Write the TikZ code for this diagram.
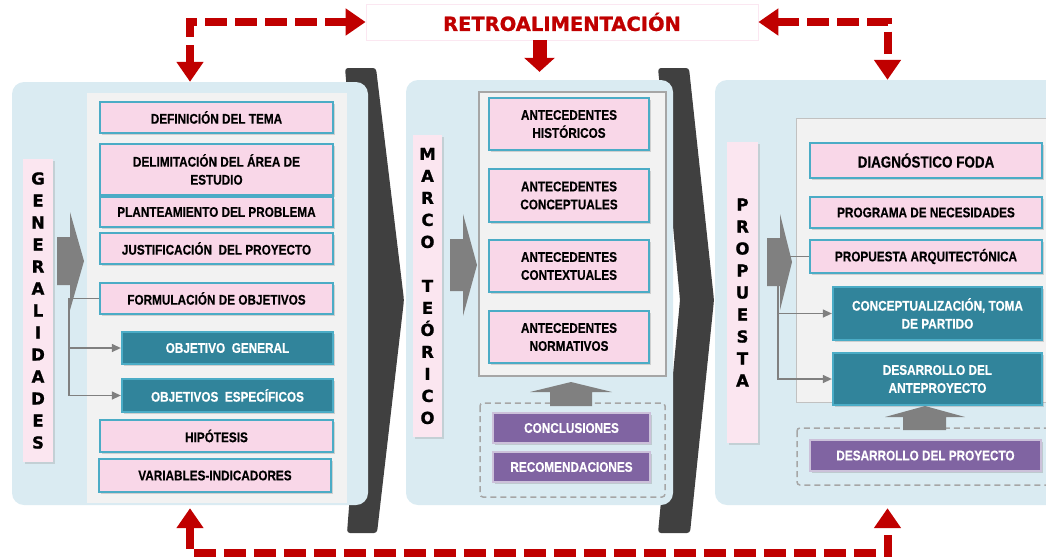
\documentclass[tikz,border=0pt]{standalone}
\usepackage{fontspec}
\usetikzlibrary{arrows.meta,shadows}
\newfontfamily\boxfont{Liberation Sans}[FakeStretch=0.84,BoldFeatures={FakeBold=0.4}]
\newfontfamily\heavyfont{DejaVu Sans}[BoldFeatures={FakeBold=1}]

\begin{document}
\begin{tikzpicture}[x=1pt,y=-1pt,
  panel/.style={fill=panelblue,rounded corners=12pt,inner sep=0pt},
  pinkbox/.style={draw=boxline,line width=2.3pt,fill=boxpink,inner sep=1pt,align=center,
    font=\boxfont\bfseries\fontsize{14}{18}\selectfont,
    drop shadow={shadow xshift=1.5pt,shadow yshift=-1.5pt,opacity=0.3}},
  tealbox/.style={pinkbox,fill=tealfill,text=white},
  purplebox/.style={pinkbox,draw=purpleline,line width=1.2pt,fill=purplefill,text=white},
  strip/.style={fill=strippink,inner sep=0pt,align=center,
    font=\heavyfont\bfseries\fontsize{16.5}{22}\selectfont,
    drop shadow={shadow xshift=1.5pt,shadow yshift=-1.5pt,opacity=0.25}},
  conn/.style={draw=arrowgray,line width=1.3pt,-{Triangle[width=8pt,length=9pt]}},
  fb/.style={draw=fbred,line width=8pt,dash pattern=on 22pt off 8pt,
    {Triangle[width=26pt,length=20pt]}-{Triangle[width=26pt,length=20pt]}},
  group/.style={draw=framegray,line width=1.5pt,dash pattern=on 6pt off 4pt,rounded corners=3pt}]
% Define colors
\definecolor{panelblue}{RGB}{218,235,242}
\definecolor{innergray}{RGB}{242,242,242}
\definecolor{boxpink}{RGB}{249,215,232}
\definecolor{strippink}{RGB}{251,230,240}
\definecolor{boxline}{RGB}{75,172,198}
\definecolor{tealfill}{RGB}{49,132,155}
\definecolor{purplefill}{RGB}{128,100,162}
\definecolor{purpleline}{RGB}{204,193,218}
\definecolor{chevdark}{RGB}{64,64,64}
\definecolor{arrowgray}{RGB}{128,128,128}
\definecolor{framegray}{RGB}{166,166,166}
\definecolor{fbred}{RGB}{192,0,0}

\useasboundingbox (0,0) rectangle (1046,558);
\clip (0,0) rectangle (1046,558);

% Dark chevrons behind the panels
\fill[chevdark,rounded corners=3pt] (345,68) -- (376,68) -- (404,300) -- (377,533) -- (347,533) -- (365,300) -- cycle;
\fill[chevdark,rounded corners=3pt] (658,68) -- (689,68) -- (714,300) -- (690,533) -- (658,533) -- (680,300) -- cycle;

% Panels
\node[panel,minimum width=356pt,minimum height=423pt] (p1) at (190,293.5) {};
\node[panel,minimum width=267pt,minimum height=425pt] (p2) at (539.5,292.5) {};
\node[panel,minimum width=345pt,minimum height=425pt] (p3) at (887.5,292.5) {};

% Inner gray areas
\fill[innergray] (87,93) rectangle (347,503);
\filldraw[fill=innergray,draw=framegray,line width=1.5pt] (479,92) rectangle (666,376);
\filldraw[fill=innergray,draw=framegray!70,line width=0.8pt] (796,118) rectangle (1060,402);

% Vertical titles
\node[strip,minimum width=30pt,minimum height=303pt] (gen) at (38,310.5)
  {G\\E\\N\\E\\R\\A\\L\\I\\D\\A\\D\\E\\S};
\node[strip,minimum width=29pt,minimum height=302pt] (mar) at (427.5,286)
  {M\\A\\R\\C\\O\\[22pt]T\\E\\Ó\\R\\I\\C\\O};
\node[strip,minimum width=31pt,minimum height=301pt] (pro) at (742.5,292.5)
  {P\\R\\O\\P\\U\\E\\S\\T\\A};

% Big gray arrows
\fill[arrowgray] (57,237) -- (70,237) -- (70,212) -- (84,261) -- (70,310) -- (70,285) -- (57,285) -- cycle;
\fill[arrowgray] (450,239) -- (463,239) -- (463,214) -- (477,265) -- (463,316) -- (463,291) -- (450,291) -- cycle;
\fill[arrowgray] (767,238) -- (780,238) -- (780,214) -- (792,262) -- (780,310) -- (780,286) -- (767,286) -- cycle;

% Generalidades
\node[pinkbox,minimum width=233pt,minimum height=31pt] (def) at (216.5,117.5) {DEFINICIÓN DEL TEMA};
\node[pinkbox,minimum width=233pt,minimum height=51pt] (delim) at (216.5,169.5) {DELIMITACIÓN DEL ÁREA DE\\ESTUDIO};
\node[pinkbox,minimum width=233pt,minimum height=30pt] (plant) at (216.5,212) {PLANTEAMIENTO DEL PROBLEMA};
\node[pinkbox,minimum width=233pt,minimum height=31pt] (just) at (216.5,248.5) {JUSTIFICACIÓN~~DEL PROYECTO};
\node[pinkbox,minimum width=233pt,minimum height=31pt] (form) at (216.5,298.5) {FORMULACIÓN DE OBJETIVOS};
\node[tealbox,minimum width=211pt,minimum height=32pt] (objgen) at (227.5,348) {OBJETIVO~~GENERAL};
\node[tealbox,minimum width=211pt,minimum height=33pt] (objesp) at (227.5,395.5) {OBJETIVOS~~ESPECÍFICOS};
\node[pinkbox,minimum width=233pt,minimum height=32pt] (hip) at (216.5,436) {HIPÓTESIS};
\node[pinkbox,minimum width=232pt,minimum height=33pt] (var) at (215,475.5) {VARIABLES-INDICADORES};

\draw[conn] (form.west) -- ++(-30,0) |- (objesp.west);
\draw[conn] (form.west) ++(-30,0) |- (objgen.west);

% Marco teorico
\node[pinkbox,minimum width=160pt,minimum height=52pt] (hist) at (569,124) {ANTECEDENTES\\HISTÓRICOS};
\node[pinkbox,minimum width=160pt,minimum height=53pt] (concep) at (569,195.5) {ANTECEDENTES\\CONCEPTUALES};
\node[pinkbox,minimum width=160pt,minimum height=52pt] (context) at (569,266) {ANTECEDENTES\\CONTEXTUALES};
\node[pinkbox,minimum width=160pt,minimum height=52pt] (norm) at (569,337) {ANTECEDENTES\\NORMATIVOS};

\draw[group] (480,403) rectangle (665,497);
\fill[arrowgray] (550,406) -- (550,392) -- (530,392) -- (571,382) -- (612,392) -- (592,392) -- (592,406) -- cycle;
\node[purplebox,minimum width=157pt,minimum height=30pt] (concl) at (571.5,428) {CONCLUSIONES};
\node[purplebox,minimum width=157pt,minimum height=30pt] (recom) at (571.5,467) {RECOMENDACIONES};

% Propuesta
\node[pinkbox,minimum width=232pt,minimum height=35pt,font=\boxfont\bfseries\fontsize{16}{18}\selectfont] (foda) at (926,160.5) {DIAGNÓSTICO FODA};
\node[pinkbox,minimum width=232pt,minimum height=31pt] (prog) at (926,212.5) {PROGRAMA DE NECESIDADES};
\node[pinkbox,minimum width=232pt,minimum height=33pt] (parq) at (926,256.5) {PROPUESTA ARQUITECTÓNICA};
\node[tealbox,minimum width=209pt,minimum height=53pt] (toma) at (937.5,313.5) {CONCEPTUALIZACIÓN, TOMA\\DE PARTIDO};
\node[tealbox,minimum width=209pt,minimum height=52pt] (antep) at (937.5,379) {DESARROLLO DEL\\ANTEPROYECTO};

\draw[conn] (parq.west) -- ++(-31,0) |- (antep.west);
\draw[conn] (parq.west) ++(-31,0) |- (toma.west);

\draw[group] (797,428) rectangle (1070,485);
\fill[arrowgray] (903,430) -- (903,417) -- (885,417) -- (925,406) -- (965,417) -- (946,417) -- (946,430) -- cycle;
\node[purplebox,minimum width=231pt,minimum height=31pt] (desproy) at (925.5,455.5) {DESARROLLO DEL PROYECTO};

% Feedback
\node[draw=boxpink!60,fill=white,line width=0.8pt,minimum width=392pt,minimum height=36pt,
  text=fbred,font=\heavyfont\bfseries\fontsize{19.5}{22}\selectfont] (tb) at (562,22) {RETROALIMENTACIÓN};
\draw[fb] (tb.west) -| (p1.north);
\draw[fb] (tb.east) -| (p3.north);
\draw[fbred,line width=14pt,-{Triangle[width=30pt,length=14pt]},shorten >=8pt] (p2.north |- tb.south) -- (p2.north);
\draw[fb,shorten <=3pt,shorten >=3pt] (p1.south) -- ++(0,48) -| (p3.south);
\end{tikzpicture}
\end{document}
